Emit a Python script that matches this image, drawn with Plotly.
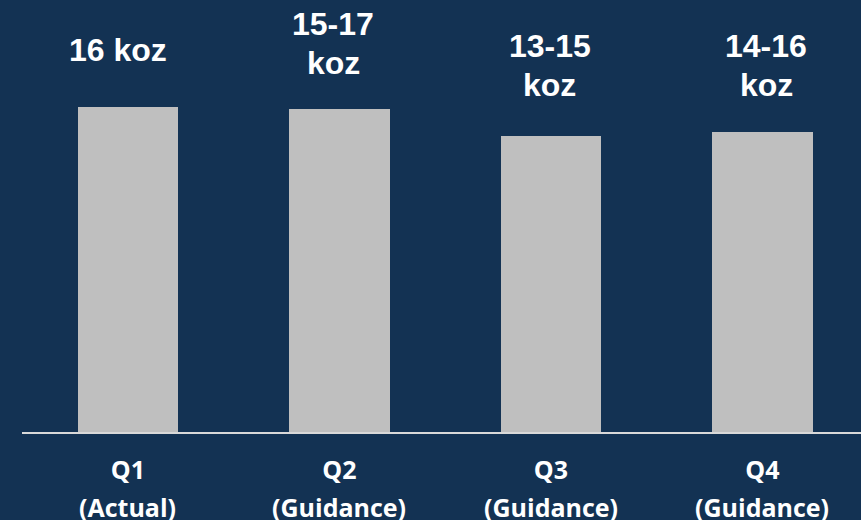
import plotly.graph_objects as go

categories = ["Q1", "Q2", "Q3", "Q4"]
tick_line1 = ["Q1", "Q2", "Q3", "Q4"]
tick_line2 = ["(Actual)", "(Guidance)", "(Guidance)", "(Guidance)"]
values = [16.0, 15.9, 14.57, 14.77]
bar_labels = ["16 koz", "15-17<br>koz", "13-15<br>koz", "14-16<br>koz"]

# style offsets for the value labels (pixels)
label_yshift = [37, 26, 31, 27]
label_xshift = [-10, -6, -1, 4]
LINE_GAP = 39

BG = "#133253"
TICKFONT = dict(family="Open Sans, sans-serif", size=25, color="white", weight="bold")
LABELFONT = dict(family="Liberation Sans, Arial, sans-serif", size=32, color="white", weight="bold")

fig = go.Figure()
fig.add_trace(go.Bar(
    x=categories, y=values, width=0.475,
    marker=dict(color="#bfbfbf", line=dict(width=0)),
    hoverinfo="skip",
))

for c, v, t, ys, xs in zip(categories, values, bar_labels, label_yshift, label_xshift):
    lines = t.split("<br>")
    for i, line in enumerate(reversed(lines)):
        fig.add_annotation(
            x=c, y=v, xref="x", yref="y", text=line, showarrow=False,
            yanchor="bottom", xanchor="center", yshift=ys + i * LINE_GAP, xshift=xs,
            font=LABELFONT,
        )

for c, t in zip(categories, tick_line2):
    fig.add_annotation(
        x=c, y=0, xref="x", yref="y", text=t, showarrow=False,
        yanchor="middle", xanchor="center", yshift=-75,
        font=TICKFONT,
    )

fig.update_layout(
    width=861, height=520,
    margin=dict(l=22, r=0, t=0, b=88),
    paper_bgcolor=BG, plot_bgcolor=BG,
    showlegend=False,
    bargap=0,
    xaxis=dict(
        range=[-0.501, 3.466],
        tickmode="array", tickvals=categories, ticktext=tick_line1,
        showgrid=False, zeroline=False,
        showline=True, linecolor="#d9d9d9", linewidth=2,
        ticks="outside", ticklen=15, tickcolor="rgba(0,0,0,0)",
        tickfont=TICKFONT,
    ),
    yaxis=dict(
        range=[0, 21.29], visible=False, showgrid=False, zeroline=False,
    ),
)

fig.write_html(
    "out.html",
    config={"displayModeBar": False},
    post_script="document.body.style.margin='0';document.body.style.background='%s';" % BG,
)
